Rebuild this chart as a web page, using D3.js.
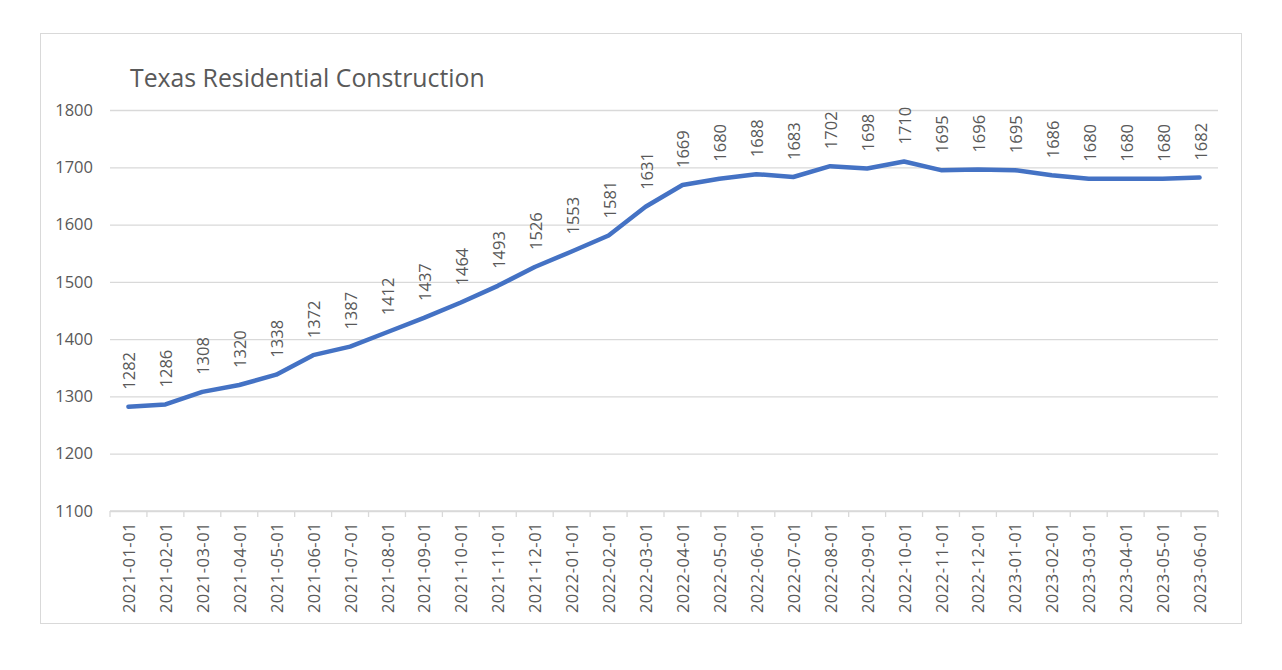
<!DOCTYPE html>
<html>
<head>
<meta charset="utf-8">
<script src="https://cdn.jsdelivr.net/npm/d3@7"></script>
<style>
  body { margin: 0; background: #fff; }
  text { font-family: "Open Sans", "Liberation Sans", sans-serif; fill: #595959; }
</style>
</head>
<body>
<div class="canvas"></div>
<script>
'use strict';

const months = ['2021-01-01', '2021-02-01', '2021-03-01', '2021-04-01', '2021-05-01', '2021-06-01',
    '2021-07-01', '2021-08-01', '2021-09-01', '2021-10-01', '2021-11-01', '2021-12-01',
    '2022-01-01', '2022-02-01', '2022-03-01', '2022-04-01', '2022-05-01', '2022-06-01',
    '2022-07-01', '2022-08-01', '2022-09-01', '2022-10-01', '2022-11-01', '2022-12-01',
    '2023-01-01', '2023-02-01', '2023-03-01', '2023-04-01', '2023-05-01', '2023-06-01'];

const values = [1282, 1286, 1308, 1320, 1338, 1372, 1387, 1412, 1437, 1464, 1493, 1526,
    1553, 1581, 1631, 1669, 1680, 1688, 1683, 1702, 1698, 1710, 1695, 1696,
    1695, 1686, 1680, 1680, 1680, 1682];

const yTicks = [1100, 1200, 1300, 1400, 1500, 1600, 1700, 1800];

const title = 'Texas Residential Construction';

const data = months.map((m, i) => ({ month: m, value: values[i] }));

const dims = { width: 1282, height: 670 };
const plot = { left: 110, right: 1218, top: 110, bottom: 511 };

const svg = d3.select('.canvas')
    .append('svg')
    .attr('width', dims.width)
    .attr('height', dims.height);

// chart frame
svg.append('rect')
    .attr('x', 40.5).attr('y', 33.5)
    .attr('width', 1201).attr('height', 590)
    .attr('fill', '#fff')
    .attr('stroke', '#d9d9d9');

svg.append('text')
    .attr('x', 130)
    .attr('y', 87)
    .style('font-size', '24.8px')
    .text(title);

const x = d3.scaleBand()
    .domain(months)
    .range([plot.left, plot.right]);

const y = d3.scaleLinear()
    .domain([1100, 1800])
    .range([plot.bottom, plot.top]);

// gridlines + y labels
const yAxis = svg.append('g')
    .attr('transform', `translate(${plot.left},0)`)
    .call(d3.axisLeft(y)
        .tickValues(yTicks)
        .tickFormat(d3.format('d'))
        .tickSize(-(plot.right - plot.left))
        .tickPadding(17));

yAxis.select('.domain').remove();
yAxis.selectAll('.tick line').attr('stroke', '#d9d9d9').attr('stroke-width', 1.3);
yAxis.selectAll('.tick text')
    .style('font-size', '16.5px')
    .attr('fill', '#595959');

// x axis with ticks at band edges
const xAxis = svg.append('g')
    .attr('transform', `translate(0,${plot.bottom})`);

xAxis.append('line')
    .attr('x1', plot.left).attr('x2', plot.right)
    .attr('stroke', '#d9d9d9').attr('stroke-width', 1.3);

xAxis.selectAll('.edge')
    .data(months.concat(['end']))
    .enter().append('line')
    .attr('class', 'edge')
    .attr('x1', (d, i) => plot.left + i * x.step())
    .attr('x2', (d, i) => plot.left + i * x.step())
    .attr('y1', 0).attr('y2', 6)
    .attr('stroke', '#d9d9d9').attr('stroke-width', 1.3);

xAxis.selectAll('.xlabel')
    .data(months)
    .enter().append('text')
    .attr('class', 'xlabel')
    .attr('transform', d => `translate(${x(d) + x.bandwidth() / 2 + 6.5},${11}) rotate(-90)`)
    .attr('text-anchor', 'end')
    .style('font-size', '16.5px')
    .style('letter-spacing', '0.5px')
    .text(d => d);

// the series
const line = d3.line()
    .x(d => x(d.month) + x.bandwidth() / 2)
    .y(d => y(d.value));

svg.append('path')
    .datum(data)
    .attr('d', line)
    .attr('fill', 'none')
    .attr('stroke', '#4472c4')
    .attr('stroke-width', 4.5)
    .attr('stroke-linejoin', 'round')
    .attr('stroke-linecap', 'round');

// data labels
svg.selectAll('.dlabel')
    .data(data)
    .enter().append('text')
    .attr('class', 'dlabel')
    .attr('transform', d => `translate(${x(d.month) + x.bandwidth() / 2 + 7},${y(d.value) - 17}) rotate(-90)`)
    .attr('text-anchor', 'start')
    .style('font-size', '16.5px')
    .text(d => d.value);
</script>
</body>
</html>
